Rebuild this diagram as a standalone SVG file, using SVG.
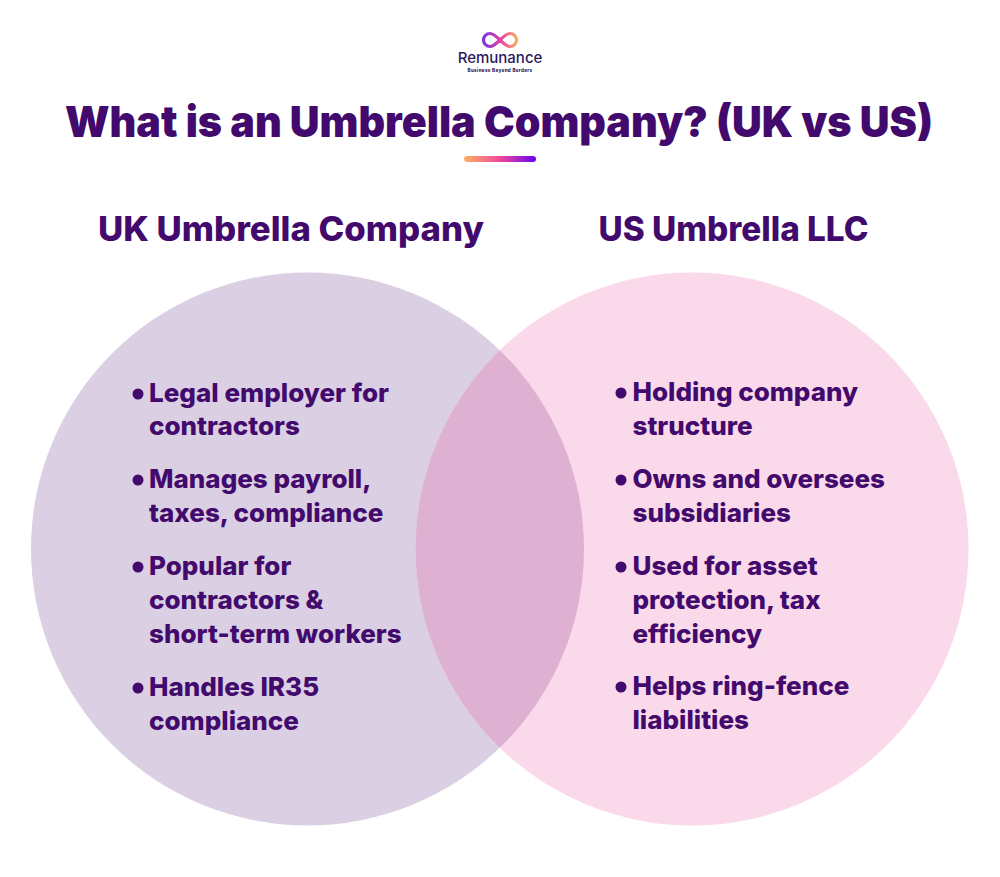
<svg xmlns="http://www.w3.org/2000/svg" width="1000" height="877" viewBox="0 0 1000 877">
<style>
text{font-family:"Inter","Noto Sans",sans-serif;fill:#430a6d}
.t{font-size:43px;font-weight:900;text-anchor:middle}
.h{font-size:34px;font-weight:800;text-anchor:middle}
.b{font-size:26px;font-weight:800}
.d{fill:#430a6d}
</style>
<defs>
<linearGradient id="bar" x1="0" x2="1" y1="0" y2="0"><stop offset="0" stop-color="#ffb066"/><stop offset=".5" stop-color="#ee4a9b"/><stop offset="1" stop-color="#6a00f0"/></linearGradient>
<linearGradient id="inf" x1="0" x2="1" y1="0" y2="0"><stop offset="0" stop-color="#7a35e0"/><stop offset=".5" stop-color="#e040a8"/><stop offset="1" stop-color="#ffa860"/></linearGradient>
<clipPath id="lc"><circle cx="307.500" cy="549" r="276.500"/></clipPath>
</defs>
<g id="logo">
<path d="M500 40C495 35 492 33.500 490 33.500A6.500 6.500 0 0 0 490 46.500C492 46.500 495 45 500 40C505 35 508 33.500 510 33.500A6.500 6.500 0 0 1 510 46.500C508 46.500 505 45 500 40Z" fill="none" stroke="url(#inf)" stroke-width="3.200"/>
<text x="500" y="63" style="font-size:15px;font-weight:500;fill:#2b1a5e;text-anchor:middle">Remunance</text>
<text x="500" y="72" style="font-size:4.500px;font-weight:800;fill:#2b1a5e;text-anchor:middle;letter-spacing:.35px">Business Beyond Borders</text>
</g>
<text id="title" class="t" x="499" y="137" textLength="868" lengthAdjust="spacingAndGlyphs">What is an Umbrella Company? (UK vs US)</text>
<rect id="title-bar" x="464" y="156" width="72" height="6" rx="3" fill="url(#bar)"/>
<g id="uk-circle"><circle cx="307.500" cy="549" r="276.500" fill="#dacfe3"/></g>
<g id="us-circle"><circle cx="692" cy="549" r="276.500" fill="#fad9ea"/></g>
<g id="overlap"><circle cx="692" cy="549" r="276.500" fill="#deb1d3" clip-path="url(#lc)"/></g>
<text class="h" x="291" y="241" textLength="386" lengthAdjust="spacingAndGlyphs">UK Umbrella Company</text>
<text class="h" x="733.500" y="241" textLength="270" lengthAdjust="spacingAndGlyphs">US Umbrella LLC</text>
<g id="uk-list">
<circle class="d" cx="138" cy="394" r="5.500"/><text class="b" x="149" y="402" textLength="240">Legal employer for</text><text class="b" x="149" y="435">contractors</text>
<circle class="d" cx="138" cy="480" r="5.500"/><text class="b" x="149" y="488">Manages payroll,</text><text class="b" x="149" y="522">taxes, compliance</text>
<circle class="d" cx="138" cy="567" r="5.500"/><text class="b" x="149" y="575">Popular for</text><text class="b" x="149" y="609">contractors &amp;</text><text class="b" x="149" y="643">short-term workers</text>
<circle class="d" cx="138" cy="688" r="5.500"/><text class="b" x="149" y="696">Handles IR35</text><text class="b" x="149" y="730">compliance</text>
</g>
<g id="us-list">
<circle class="d" cx="621" cy="393" r="5.500"/><text class="b" x="632.500" y="401">Holding company</text><text class="b" x="632.500" y="435">structure</text>
<circle class="d" cx="621" cy="480" r="5.500"/><text class="b" x="632.500" y="488">Owns and oversees</text><text class="b" x="632.500" y="522">subsidiaries</text>
<circle class="d" cx="621" cy="567" r="5.500"/><text class="b" x="632.500" y="575">Used for asset</text><text class="b" x="632.500" y="609">protection, tax</text><text class="b" x="632.500" y="643">efficiency</text>
<circle class="d" cx="621" cy="687" r="5.500"/><text class="b" x="632.500" y="695">Helps ring-fence</text><text class="b" x="632.500" y="729">liabilities</text>
</g>
</svg>
